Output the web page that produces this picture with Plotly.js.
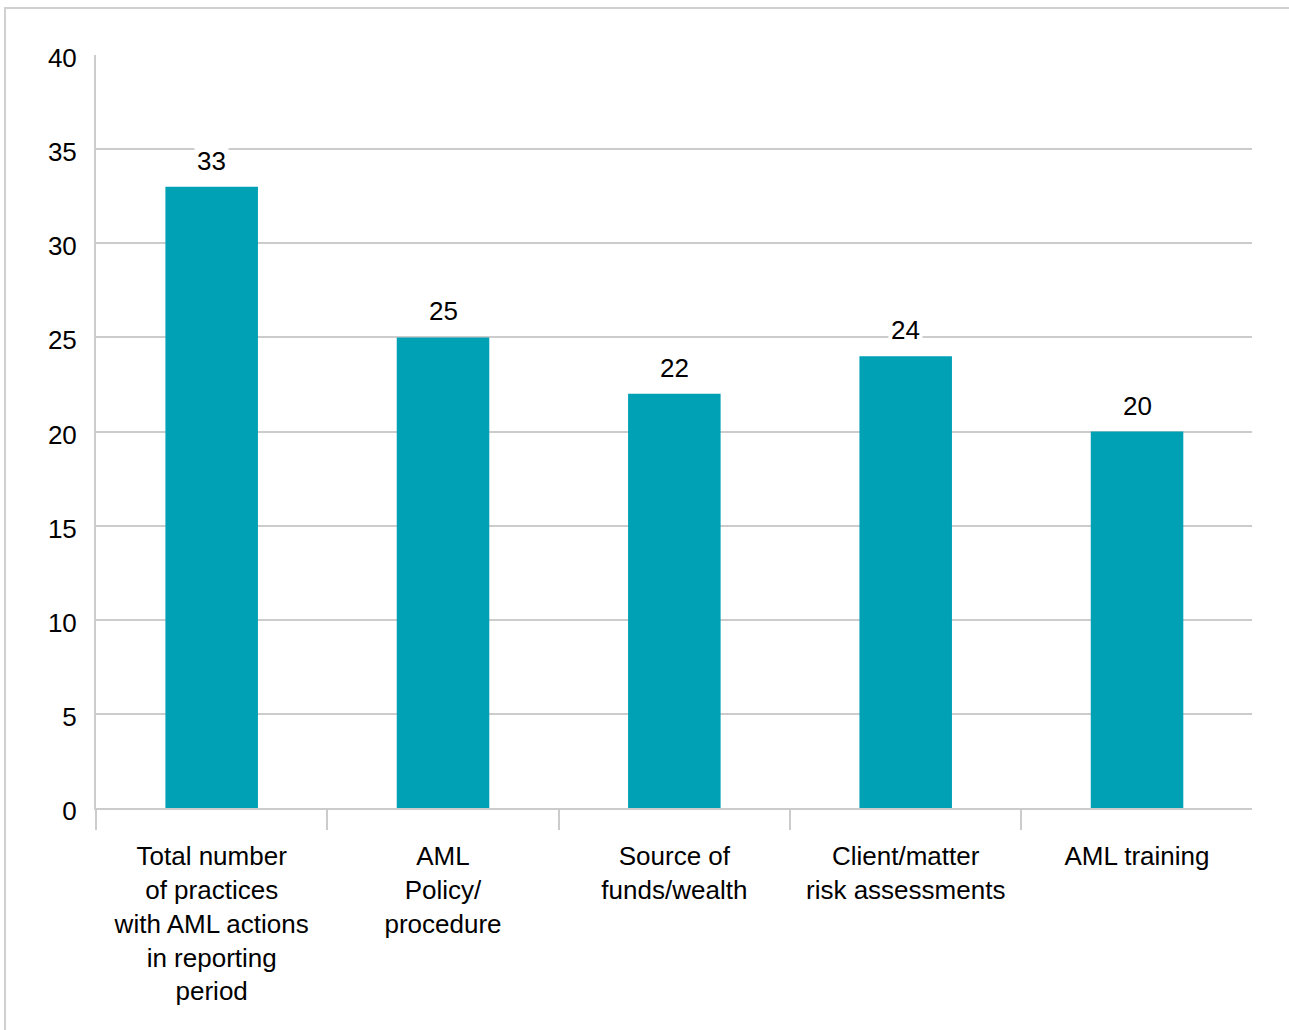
<!DOCTYPE html>
<html>
<head>
<meta charset="utf-8">
<script src="https://cdn.plot.ly/plotly-3.0.1.min.js"></script>
<style>
html,body{margin:0;padding:0;overflow:hidden;background:#fff;}
#chart{position:absolute;left:0;top:0;width:1289px;height:1030px;}
#frame{position:absolute;left:4px;top:7px;width:1400px;height:1100px;border:2px solid #d0d0d0;pointer-events:none;}
</style>
</head>
<body>
<div id="chart"></div>
<div id="frame"></div>
<script>
const categories = [
  "Total number<br>of practices<br>with AML actions<br>in reporting<br>period",
  "AML<br>Policy/<br>procedure",
  "Source of<br>funds/wealth",
  "Client/matter<br>risk assessments",
  "AML training"
];
const values = [33, 25, 22, 24, 20];
const yTicks = [0, 5, 10, 15, 20, 25, 30, 35, 40];

const font = {family: "Liberation Sans, Arial, sans-serif", size: 26, color: "#000"};

const trace = {
  type: "bar",
  x: categories,
  y: values,
  marker: {color: "#00A0B5"},
  hoverinfo: "none"
};

const annotations = categories.map((c, i) => ({
  x: c, y: values[i], xref: "x", yref: "y",
  text: String(values[i]),
  showarrow: false,
  yanchor: "bottom",
  yshift: 8,
  bgcolor: "#fff",
  borderpad: 2,
  font: font
}));

const layout = {
  width: 1289, height: 1030,
  margin: {l: 96, r: 37, t: 55, b: 222},
  paper_bgcolor: "rgba(0,0,0,0)",
  plot_bgcolor: "#fff",
  font: font,
  showlegend: false,
  bargap: 0.6,
  xaxis: {
    type: "category",
    range: [-0.5, 4.497],
    tickson: "boundaries",
    ticks: "outside",
    ticklen: 20,
    tickwidth: 2,
    tickcolor: "#cccccc",
    showline: true,
    linecolor: "#cccccc",
    linewidth: 2,
    showgrid: false,
    zeroline: false,
    ticklabelstandoff: 24,
    tickfont: font
  },
  yaxis: {
    range: [0, 40],
    tickvals: yTicks,
    ticktext: yTicks.map(String),
    showgrid: true,
    gridcolor: "#cccccc",
    gridwidth: 2,
    showline: true,
    linecolor: "#cccccc",
    linewidth: 2,
    zeroline: false,
    ticks: "",
    ticklabelstandoff: 12,
    ticklabelshift: 3,
    tickfont: font
  },
  annotations: annotations
};

Plotly.newPlot("chart", [trace], layout, {staticPlot: true, displayModeBar: false});
</script>
</body>
</html>
